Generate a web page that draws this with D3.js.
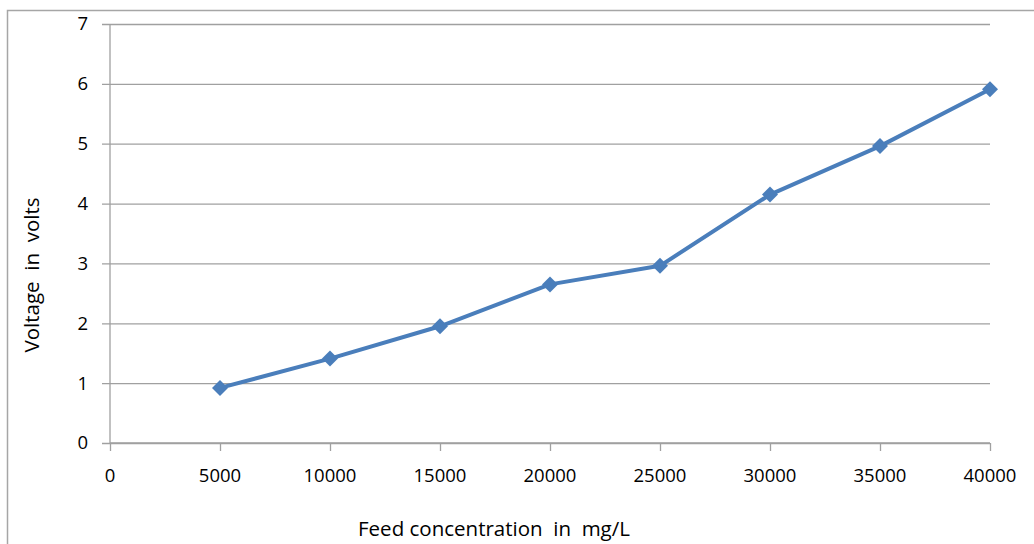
<!DOCTYPE html>
<html>
<head>
<meta charset="utf-8">
<script src="https://cdn.jsdelivr.net/npm/d3@7"></script>
<style>
  html, body { margin: 0; padding: 0; background: #fff; }
  svg { display: block; }
  text { font-family: "Open Sans", "DejaVu Sans", sans-serif; fill: #000; }
</style>
</head>
<body>
<svg id="chart" width="1034" height="544"></svg>
<script>
const concentrations = [5000, 10000, 15000, 20000, 25000, 30000, 35000, 40000];
const voltages = [0.92, 1.41, 1.95, 2.65, 2.96, 4.15, 4.96, 5.91];
const xTicks = [0, 5000, 10000, 15000, 20000, 25000, 30000, 35000, 40000];
const yTicks = [0, 1, 2, 3, 4, 5, 6, 7];
const xTitle = "Feed concentration  in  mg/L";
const yTitle = "Voltage  in  volts";

const svg = d3.select("#chart");
const plotLeft = 110, plotRight = 990, plotTop = 24, plotBottom = 443;

const x = d3.scaleLinear().domain([0, 40000]).range([plotLeft, plotRight]);
const y = d3.scaleLinear().domain([0, 7]).range([plotBottom, plotTop]);

// outer border
svg.append("path")
  .attr("d", `M7.5,${544} V10.5 H1034`)
  .attr("fill", "none").attr("stroke", "#a6a6a6").attr("stroke-width", 1.5);

// gridlines
const yAxis = d3.axisLeft(y).tickValues(yTicks).tickSize(-(plotRight - plotLeft)).tickFormat("");
const gy = svg.append("g").attr("transform", `translate(${plotLeft},0)`).call(yAxis);
gy.select(".domain").remove();
gy.selectAll(".tick line").attr("stroke", "#a0a0a0").attr("stroke-width", 1.3).attr("x1", -8);

// y axis line
svg.append("line").attr("x1", plotLeft).attr("x2", plotLeft).attr("y1", plotTop).attr("y2", plotBottom)
  .attr("stroke", "#a0a0a0").attr("stroke-width", 1.3);

// y tick labels
svg.append("g").selectAll("text").data(yTicks).join("text")
  .attr("x", 88).attr("y", d => y(d)).attr("dy", "0.35em")
  .attr("text-anchor", "end").attr("font-size", 18.5).text(d => d);

// x axis
const xAxis = d3.axisBottom(x).tickValues(xTicks).tickSize(8).tickFormat("");
const gx = svg.append("g").attr("transform", `translate(0,${plotBottom})`).call(xAxis);
gx.select(".domain").attr("stroke", "#a0a0a0").attr("stroke-width", 1.3).attr("d", `M${plotLeft},0H${plotRight}`);
gx.selectAll(".tick line").attr("stroke", "#a0a0a0").attr("stroke-width", 1.3);

svg.append("g").selectAll("text").data(xTicks).join("text")
  .attr("x", d => x(d)).attr("y", 482)
  .attr("text-anchor", "middle").attr("font-size", 18.5).text(d => d);

// titles
svg.append("text").attr("x", 494).attr("y", 536).attr("text-anchor", "middle")
  .attr("font-size", 20.5).style("white-space", "pre").text(xTitle);
svg.append("text").attr("transform", "translate(39,275) rotate(-90)").attr("text-anchor", "middle")
  .attr("font-size", 20.5).style("white-space", "pre").text(yTitle);

// line
const data = concentrations.map((c, i) => ({ c, v: voltages[i] }));
const color = "#4a7ebb";
svg.append("path").datum(data)
  .attr("fill", "none").attr("stroke", color).attr("stroke-width", 4).attr("stroke-linejoin", "round")
  .attr("d", d3.line().x(d => x(d.c)).y(d => y(d.v)));

svg.append("g").selectAll("path").data(data).join("path")
  .attr("transform", d => `translate(${x(d.c)},${y(d.v)})`)
  .attr("d", "M0,-8L8,0L0,8L-8,0Z")
  .attr("fill", color);
</script>
</body>
</html>
